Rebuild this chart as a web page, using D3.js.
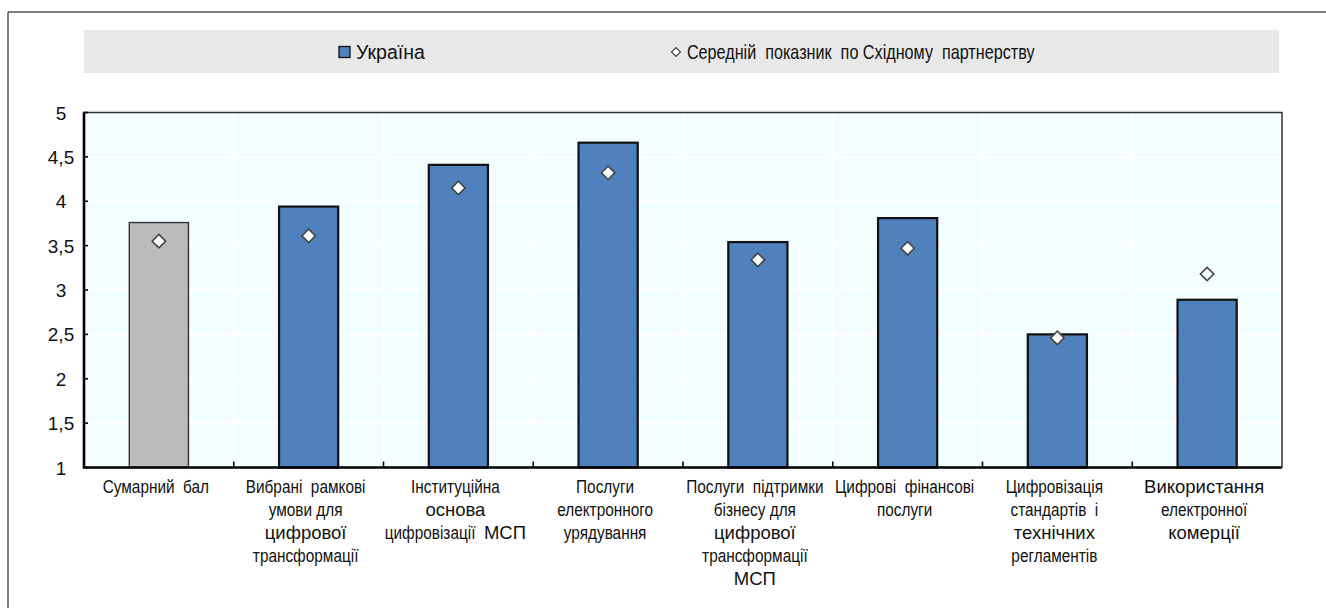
<!DOCTYPE html>
<html lang="uk">
<head>
<meta charset="utf-8">
<script src="https://cdn.jsdelivr.net/npm/d3@7/dist/d3.min.js"></script>
<style>
  html, body { margin: 0; padding: 0; background: #ffffff; }
  svg { display: block; }
  text { white-space: pre; }
</style>
</head>
<body>
<svg id="chart" width="1326" height="608"></svg>
<script>
// Category labels: each entry is a list of lines; a segment after "|" is set in the wider face
const categories = [
  "Сумарний бал",
  "Вибрані рамкові умови",
  "Інституційна основа",
  "Послуги е-урядування",
  "Підтримка бізнесу",
  "Цифрові фінансові послуги",
  "Стандарти і регламенти",
  "Е-комерція"
];
const categoryLabels = [
  ["Сумарний  бал"],
  ["Вибрані  рамкові", "умови для", "|цифрової", "трансформації"],
  ["Інституційна", "|основа", "цифровізації  |МСП"],
  ["Послуги", "електронного", "урядування"],
  ["Послуги  підтримки", "бізнесу для", "|цифрової", "трансформації", "|МСП"],
  ["Цифрові  фінансові", "послуги"],
  ["Цифровізація", "стандартів  і", "|технічних", "регламентів"],
  ["|Використання", "електронної", "|комерції"]
];
// Ukraine scores and Eastern Partnership average
const ukraineValues = [3.76, 3.94, 4.41, 4.66, 3.54, 3.81, 2.50, 2.89];
const eapAverage    = [3.55, 3.61, 4.15, 4.32, 3.34, 3.47, 2.46, 3.18];
const yTicks = [1, 1.5, 2, 2.5, 3, 3.5, 4, 4.5, 5];
const legendLabels = ["Україна", "Середній  показник  по Східному  партнерству"];

const svg = d3.select("#chart");
const W = 1326, H = 608;
const plot = { left: 84, right: 1282, top: 112.5, bottom: 467.5 };

const FONT = "'Liberation Sans', Arial, sans-serif";
const NARROW_SCALE = 0.83;   // horizontal squeeze for the condensed face

// Draws a row of text segments centred on cx; narrow segments are squeezed horizontally.
function drawLine(parent, segments, cx, baseline, size) {
  const g = parent.append("g");
  const items = segments.map(s => {
    const t = g.append("text")
      .attr("font-family", FONT).attr("font-size", size).attr("fill", "#111")
      .text(s.text);
    const k = s.narrow ? NARROW_SCALE : 1;
    return { t, k, w: t.node().getComputedTextLength() * k };
  });
  const total = d3.sum(items, d => d.w);
  let xpos = cx - total / 2;
  items.forEach(d => {
    d.t.attr("transform", `translate(${xpos},${baseline}) scale(${d.k},1)`);
    xpos += d.w;
  });
  return g;
}
function parseLine(line) {
  return line.split("|").map((seg, k) => ({ text: seg, narrow: k === 0 })).filter(s => s.text);
}

const x = d3.scaleBand().domain(categories).range([plot.left, plot.right]).padding(0);
const y = d3.scaleLinear().domain([1, 5]).range([plot.bottom, plot.top]);
const barW = x.bandwidth() * 0.395;

// outer frame (top and left edges)
svg.append("line").attr("x1", 8).attr("x2", W).attr("y1", 12).attr("y2", 12)
  .attr("stroke", "#555").attr("stroke-width", 1.5);
svg.append("line").attr("x1", 8).attr("x2", 8).attr("y1", 12).attr("y2", H)
  .attr("stroke", "#555").attr("stroke-width", 1.5);

// legend band
svg.append("rect").attr("x", 84).attr("y", 30).attr("width", 1195).attr("height", 43)
  .attr("fill", "#e8e8e8");
const legend = svg.append("g");
legend.append("rect").attr("x", 339).attr("y", 46.5).attr("width", 11).attr("height", 11)
  .attr("fill", "#4f81bd").attr("stroke", "#111").attr("stroke-width", 1.3);
const lg1 = drawLine(legend, [{ text: legendLabels[0], narrow: false }], 0, 58.5, 19.5);
lg1.attr("transform", function () { return `translate(${356 + this.getBBox().width / 2},0)`; });
legend.append("path").attr("d", d3.symbol(d3.symbolSquare, 40)())
  .attr("transform", "translate(676,52) rotate(45)")
  .attr("fill", "#fff").attr("stroke", "#444").attr("stroke-width", 1.2);
const lg2 = drawLine(legend, [{ text: legendLabels[1], narrow: true }], 0, 58.5, 19.5);
lg2.attr("transform", function () { return `translate(${687 + this.getBBox().width / 2},0)`; });

// plot background
svg.append("rect").attr("x", plot.left).attr("y", plot.top)
  .attr("width", plot.right - plot.left).attr("height", plot.bottom - plot.top)
  .attr("fill", "#f2feff");

// white grid
const grid = svg.append("g").attr("stroke", "#ffffff").attr("stroke-width", 2.2);
grid.selectAll("line.h").data(yTicks.slice(1, -1)).join("line").attr("class", "h")
  .attr("x1", plot.left).attr("x2", plot.right)
  .attr("y1", d => y(d)).attr("y2", d => y(d));
grid.selectAll("line.v").data(categories.slice(1)).join("line").attr("class", "v")
  .attr("x1", d => x(d)).attr("x2", d => x(d))
  .attr("y1", plot.top).attr("y2", plot.bottom);

// bars
svg.append("g").selectAll("rect").data(categories).join("rect")
  .attr("x", d => x(d) + x.bandwidth() / 2 - barW / 2)
  .attr("y", (d, i) => y(ukraineValues[i]))
  .attr("width", barW)
  .attr("height", (d, i) => y(1) - y(ukraineValues[i]))
  .attr("fill", (d, i) => i === 0 ? "#bbbbbb" : "#4f81bd")
  .attr("stroke", (d, i) => i === 0 ? "#333" : "#111")
  .attr("stroke-width", (d, i) => i === 0 ? 1.4 : 2.2);

// Eastern Partnership average markers
svg.append("g").selectAll("path").data(categories).join("path")
  .attr("d", d3.symbol(d3.symbolSquare, 90)())
  .attr("transform", (d, i) => `translate(${x(d) + x.bandwidth() / 2},${y(eapAverage[i])}) rotate(45)`)
  .attr("fill", "#ffffff").attr("stroke", "#444").attr("stroke-width", 1.6);

// plot border: thin top/right, heavy axes left/bottom
svg.append("path")
  .attr("d", `M${plot.left},${plot.top}H${plot.right}V${plot.bottom}`)
  .attr("fill", "none").attr("stroke", "#333").attr("stroke-width", 1.5);
svg.append("path")
  .attr("d", `M${plot.left},${plot.top}V${plot.bottom}H${plot.right}`)
  .attr("fill", "none").attr("stroke", "#000").attr("stroke-width", 2.6);

// y ticks and labels
const yAxis = svg.append("g");
yAxis.selectAll("line").data(yTicks).join("line")
  .attr("x1", plot.left - 1).attr("x2", plot.left + 4)
  .attr("y1", d => y(d)).attr("y2", d => y(d))
  .attr("stroke", "#000").attr("stroke-width", 1.6);
yAxis.selectAll("text").data(yTicks).join("text")
  .attr("x", 61).attr("y", d => y(d) + 7)
  .attr("text-anchor", "middle")
  .attr("font-family", FONT).attr("font-size", 19).attr("fill", "#111")
  .text(d => d3.format("")(d).replace(".", ","));

// x ticks at category boundaries
svg.append("g").selectAll("line").data(categories.slice(1)).join("line")
  .attr("x1", d => x(d)).attr("x2", d => x(d))
  .attr("y1", plot.bottom).attr("y2", plot.bottom - 6)
  .attr("stroke", "#000").attr("stroke-width", 1.6);

// category labels
const labels = svg.append("g");
categories.forEach((c, i) => {
  const cx = x(c) + x.bandwidth() / 2 - 3;
  categoryLabels[i].forEach((line, j) => {
    drawLine(labels, parseLine(line), cx, 493 + j * 23, 18.5);
  });
});
</script>
</body>
</html>
